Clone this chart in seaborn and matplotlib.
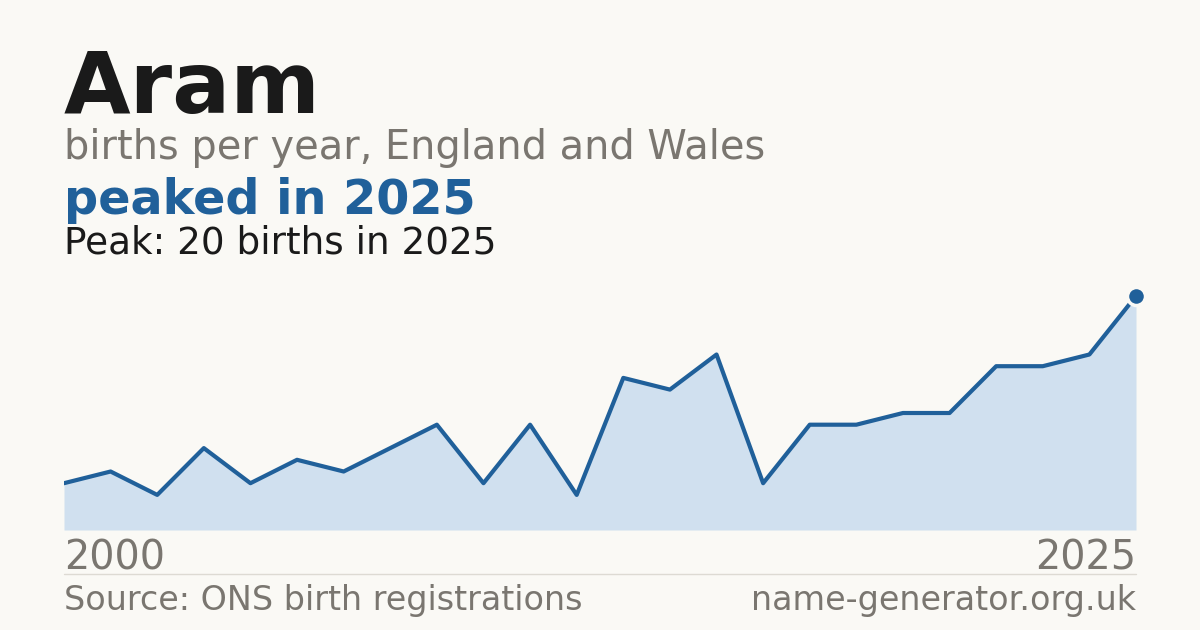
import matplotlib
matplotlib.use("Agg")
import matplotlib.pyplot as plt
import seaborn as sns
import pandas as pd

# data (24 points, 2000 .. 2025)
idx = list(range(24))
births = [4, 5, 3, 7, 4, 6, 5, 7, 9, 4, 9, 3, 13, 12, 15, 4, 9, 9, 10, 10, 14, 14, 15, 20]
start_label = "2000"
end_label = "2025"

BG = "#faf9f5"
BLUE = "#20609a"
FILL = "#d0e0ef"
GREY = "#7a7670"
DARK = "#1a1a1a"

sns.set_style("white")
plt.rcParams["font.family"] = ["DejaVu Sans"]

df = pd.DataFrame({"i": idx, "n": births})

W, H = 1200, 630
fig = plt.figure(figsize=(12, 6.3), dpi=100, facecolor=BG)
ax = fig.add_axes([64 / W, 1 - 530 / H, (1136 - 64) / W, (530 - 296) / H])
ax.set_facecolor(BG)
ax.patch.set_alpha(0)

ax.fill_between(df["i"], 0, df["n"], color=FILL, lw=0)
sns.lineplot(data=df, x="i", y="n", color=BLUE, lw=3.0, ax=ax)
ax.plot(df["i"].iloc[-1], df["n"].iloc[-1], "o", ms=13, color=BLUE,
        mec=BG, mew=2.5, clip_on=False, zorder=5)

ax.set_xlim(0, 23)
ax.set_ylim(0, 20)
ax.axis("off")

def t(x, y, s, **kw):
    fig.text(x / W, 1 - y / H, s, va="baseline", **kw)

t(64, 113, "Aram", fontsize=62, fontweight="bold", color=DARK)
t(64, 159, "births per year, England and Wales", fontsize=28.7, color=GREY)
t(64, 214, "peaked in 2025", fontsize=34.4, fontweight="bold", color=BLUE)
t(64, 253, "Peak: 20 births in 2025", fontsize=26.9, color=DARK)
t(64, 570, start_label, fontsize=28.6, color=GREY)
t(1136, 570, end_label, fontsize=28.6, color=GREY, ha="right")
t(64, 610, "Source: ONS birth registrations", fontsize=24, color=GREY)
t(1136, 610, "name-generator.org.uk", fontsize=24, color=GREY, ha="right")

fig.add_artist(plt.Line2D([64 / W, 1136 / W], [1 - 574 / H, 1 - 574 / H],
                          color="#dddad3", lw=1))

fig.savefig("out.png", dpi=100, facecolor=BG)
